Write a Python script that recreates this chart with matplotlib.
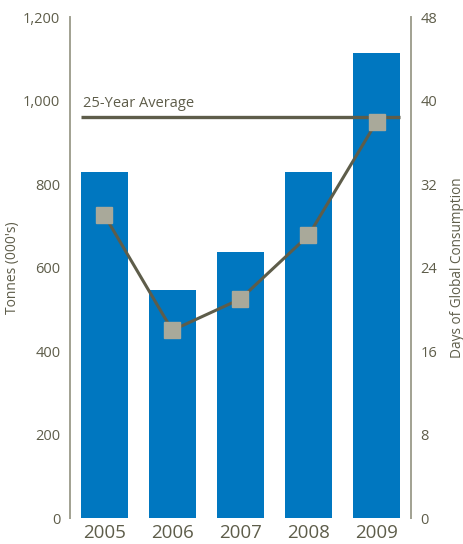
import matplotlib.pyplot as plt

years = ["2005", "2006", "2007", "2008", "2009"]
tonnes = [830, 547, 637, 830, 1114]
days = [29.1, 18.0, 21.0, 27.1, 38.0]
avg_days = 38.5

BLUE = "#0077c0"
OLIVE = "#5e5d4a"
MARKER = "#a9a99a"
SPINE = "#a3a394"

plt.rcParams["font.family"] = ["Open Sans", "DejaVu Sans"]
plt.rcParams["font.weight"] = "medium"

fig = plt.figure(figsize=(4.64, 5.44), dpi=100)
ax = fig.add_axes([70 / 464, 26 / 544, 340.7 / 464, 500.5 / 544])
ax2 = ax.twinx()

x = range(len(years))
bar_w = 0.69
ax.bar(x, tonnes, width=bar_w, color=BLUE, zorder=1)
ax.set_ylim(0, 1200)
ax.set_xlim(-0.5, 4.5)
ax.set_yticks(range(0, 1201, 200))
ax.set_yticklabels(["0", "200", "400", "600", "800", "1,000", "1,200"])
ax.set_xticks(list(x))
ax.set_xticklabels(years, fontsize=13.5, color=OLIVE)
ax.set_ylabel("Tonnes (000's)", fontsize=10, color=OLIVE, labelpad=2)

ax2.set_ylim(0, 48)
ax2.set_yticks(range(0, 49, 8))
ax2.set_ylabel("Days of Global Consumption", fontsize=9.8, color=OLIVE, labelpad=9)

# 25-year average across the bars
ax2.hlines(avg_days, -bar_w / 2, len(years) - 1 + bar_w / 2, color=OLIVE, lw=2.4, zorder=2)
ax2.text(-bar_w / 2 + 0.03, avg_days + 0.55, "25-Year Average", fontsize=10.5,
         color=OLIVE, va="bottom", ha="left")
ax2.plot(x, days, color=OLIVE, lw=2.2, marker="s", markersize=11.5,
         markerfacecolor=MARKER, markeredgecolor=MARKER, zorder=3)

for a in (ax, ax2):
    a.tick_params(length=0, labelsize=10.5, labelcolor=OLIVE)
    a.spines["top"].set_visible(False)
    a.spines["bottom"].set_visible(False)
    a.spines["left"].set_color(SPINE)
    a.spines["right"].set_color(SPINE)
    a.spines["left"].set_linewidth(1.4)
    a.spines["right"].set_linewidth(1.4)
ax.tick_params(axis="y", pad=7)
ax2.tick_params(axis="y", pad=7)
ax.tick_params(axis="x", pad=4, labelsize=13.5)

fig.savefig("out.png", dpi=100)
